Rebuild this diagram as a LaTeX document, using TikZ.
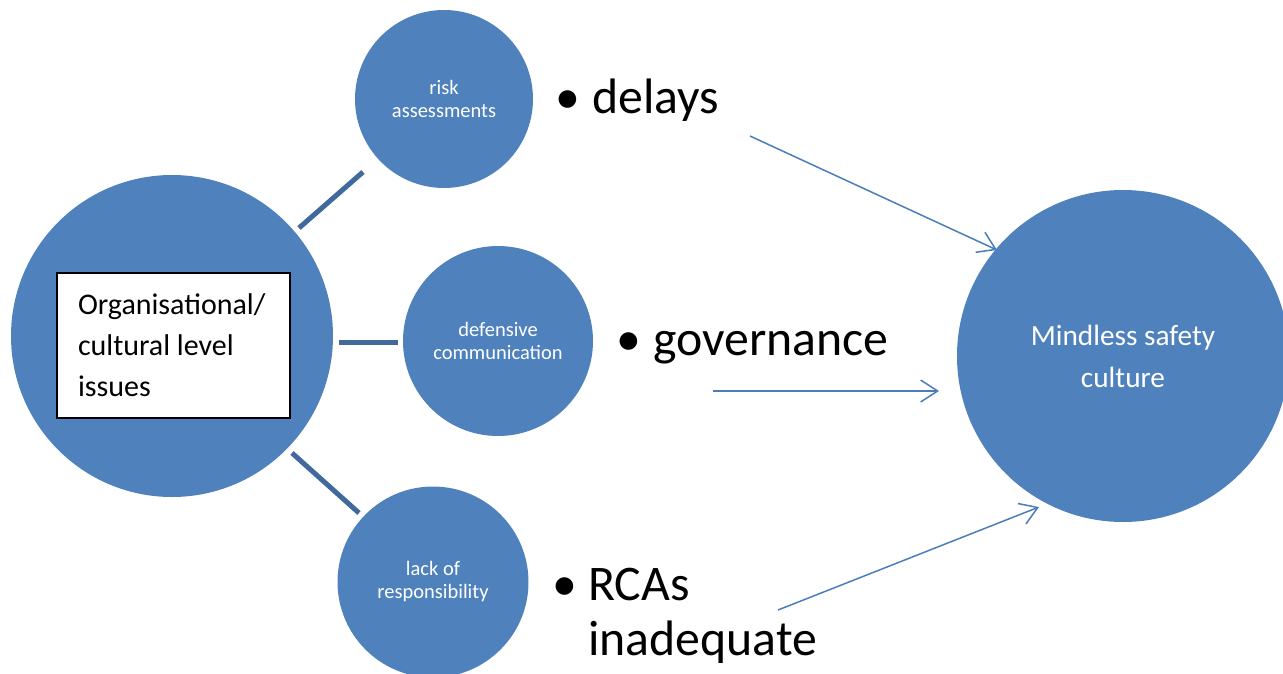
\documentclass[tikz,border=0pt]{standalone}
\usepackage{fontspec}
\setmainfont{Carlito}
\usetikzlibrary{arrows.meta}
\definecolor{cfill}{HTML}{4F81BD}
\definecolor{cline}{HTML}{41699C}
\definecolor{carrow}{HTML}{4A7EBB}
\begin{document}
\begin{tikzpicture}[x=1pt,y=-1pt,
  bub/.style={circle, fill=cfill, draw=none, inner sep=0pt, text=white, align=center},
  smalltxt/.style={font=\fontsize{20.5}{23}\selectfont},
  bigtxt/.style={font=\fontsize{29.3}{42}\selectfont},
  bultxt/.style={font=\fontsize{49.8}{55}\selectfont, inner sep=0pt, text=black},
  link/.style={draw=cline, line width=5pt},
  flow/.style={draw=carrow, line width=1.5pt, -{Straight Barb[length=17pt,width=22pt]}}]
\useasboundingbox (0,0) rectangle (1283,673);
% circles
\node[bub, minimum size=322pt] (org) at (172,336) {};
\node[bub, smalltxt, minimum size=178pt] (risk) at (444,99) {risk\\assessments};
\node[bub, smalltxt, minimum size=190pt] (def) at (498,341) {defensive\\communication};
\node[bub, smalltxt, minimum size=191pt] (lack) at (433,582) {lack of\\responsibility};
\node[bub, bigtxt, minimum size=332pt] (msc) at (1123,356) {Mindless safety\\culture};
% box
\node[draw=black, fill=white, line width=1.5pt, minimum width=233pt, minimum height=145pt,
      text width=191pt, align=flush left, font=\fontsize{30}{41}\selectfont] (box) at (173.5,345.5)
      {Organisational/\\cultural level\\issues};
% link coordinates
\coordinate (l1a) at (299,228); \coordinate (l1b) at (363,172);
\coordinate (l2a) at (339,342); \coordinate (l2b) at (398,342);
\coordinate (l3a) at (292,453); \coordinate (l3b) at (359,513);
\draw[link] (l1a) -- (l1b);
\draw[link] (l2a) -- (l2b);
\draw[link] (l3a) -- (l3b);
% bullets
\node[bultxt, anchor=base] (d0) at (568,113) {•};
\node[bultxt, anchor=base west] (d1) at (592,113) {delays};
\node[bultxt, anchor=base] (g0) at (629,355) {•};
\node[bultxt, anchor=base west] (g1) at (653,355) {governance};
\node[bultxt, anchor=base] (r0) at (565,600) {•};
\node[bultxt, anchor=base west] (r1) at (588,600) {RCAs};
\node[bultxt, anchor=base west] (r2) at (588,655) {inadequate};
% arrows
\coordinate (a1s) at (750,136); \coordinate (a1e) at (997,250);
\coordinate (a2s) at (713,391); \coordinate (a2e) at (939,391);
\coordinate (a3s) at (778,610); \coordinate (a3e) at (1039,507);
\draw[flow] (a1s) -- (a1e);
\draw[flow] (a2s) -- (a2e);
\draw[flow] (a3s) -- (a3e);
\end{tikzpicture}
\end{document}
